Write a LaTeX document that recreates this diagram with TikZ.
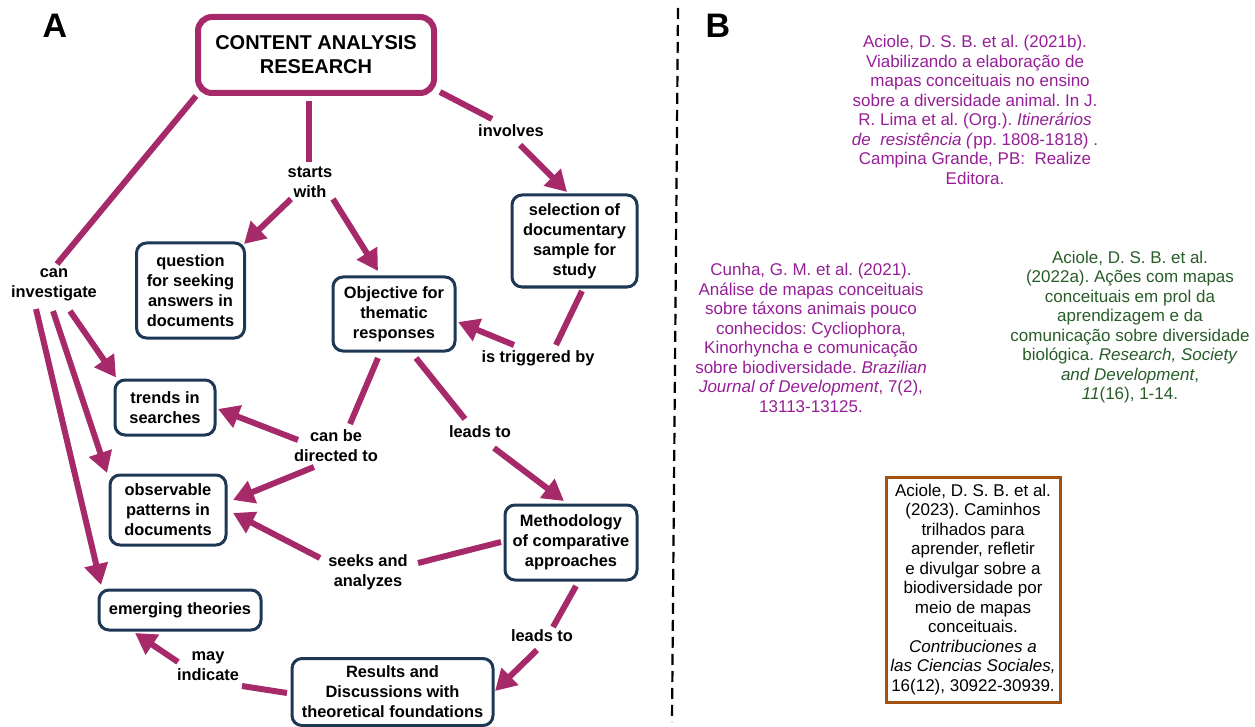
\documentclass[tikz,border=0pt]{standalone}
\usepackage{fontspec}
\setmainfont{Liberation Sans}
\usetikzlibrary{arrows.meta,calc}
\frenchspacing
\definecolor{mag}{RGB}{166,42,106}
\definecolor{navy}{RGB}{30,55,85}
\definecolor{refpurple}{RGB}{150,30,150}
\definecolor{refgreen}{RGB}{40,92,40}
\definecolor{refbrown}{RGB}{160,82,14}
\tikzset{
  cbox/.style={draw=navy, line width=3pt, rounded corners=10pt, fill=white, align=center,
    font=\bfseries\fontsize{16.4}{20}\selectfont, inner sep=2pt},
  titlebox/.style={draw=mag, line width=6pt, rounded corners=14pt, fill=white, align=center,
    font=\bfseries\fontsize{20}{24}\selectfont, minimum width=236pt, minimum height=76pt},
  lbl/.style={align=center, font=\bfseries\fontsize{16.4}{20}\selectfont, inner sep=1pt},
  link/.style={draw=mag, line width=6pt},
  arr/.style={link, -{Triangle[length=21pt,width=23pt]}},
  ref/.style={align=center, font=\fontsize{17}{19.5}\selectfont\frenchspacing, inner sep=0pt},
  panel/.style={font=\bfseries\fontsize{34}{34}\selectfont, inner sep=0pt}
}
\begin{document}
\begin{tikzpicture}[x=1pt,y=-1pt]
\useasboundingbox (0,0) rectangle (1255,727);
% panel letters
\node[panel] (pA) at (55,26) {A};
\node[panel] (pB) at (718,26) {B};
% divider
\draw[line width=2.2pt, dash pattern=on 11pt off 6pt] (678,8) -- (672,722);

% concept nodes
\node[titlebox] (T) at (316,55) {CONTENT ANALYSIS\\RESEARCH};
\node[cbox, minimum width=108pt, minimum height=95pt] (Q) at (190.5,290.5) {question\\for seeking\\answers in\\documents};
\node[cbox, minimum width=122pt, minimum height=74pt] (O) at (394,314) {Objective for\\thematic\\responses};
\node[cbox, minimum width=125pt, minimum height=92pt] (S) at (574.5,241) {selection of\\documentary\\sample for\\study};
\node[cbox, minimum width=100pt, minimum height=55pt] (Tr) at (165,407.5) {trends in\\searches};
\node[cbox, minimum width=116pt, minimum height=70pt] (Ob) at (168,510) {observable\\patterns in\\documents};
\node[cbox, minimum width=132pt, minimum height=75pt] (M) at (571,542.5) {Methodology\\of comparative\\approaches};
\node[cbox, minimum width=162pt, minimum height=40pt] (E) at (180,610) {emerging theories};
\node[cbox, minimum width=201pt, minimum height=67pt] (R) at (392.5,692) {Results and\\Discussions with\\theoretical foundations};

% link labels
\node[lbl] (CI) at (54,285) {can\\investigate};
\node[lbl] (ST) at (310,182) {starts\\with};
\node[lbl] (IV) at (511,131) {involves};
\node[lbl] (TG) at (538,358) {is triggered by};
\node[lbl] (DR) at (336,446) {can be\\directed to};
\node[lbl] (L1) at (480,432) {leads to};
\node[lbl] (SK) at (368,572) {seeks and\\analyzes};
\node[lbl] (L2) at (542,636) {leads to};
\node[lbl] (MY) at (208,666) {may\\indicate};

% connectors
\draw[link] ($(T.center)+(-120,41)$) -- ($(CI.center)+(3,-21)$);
\draw[arr] ($(CI.center)+(16,26)$) -- ($(Tr.center)+(-49,-30)$);
\draw[arr] ($(CI.center)+(-1,26)$) -- ($(Ob.center)+(-61,-37)$);
\draw[arr] ($(CI.center)+(-18,24)$) -- ($(E.center)+(-79,-25)$);

\draw[link] ($(T.center)+(-7,46)$) -- ($(ST.center)+(-1,-20)$);
\draw[arr] ($(ST.center)+(-19,17)$) -- ($(Q.center)+(53.5,-46.5)$);
\draw[arr] ($(ST.center)+(23,17)$) -- ($(O.center)+(-16,-43)$);

\draw[link] ($(T.center)+(124,37)$) -- ($(IV.center)+(-19,-12)$);
\draw[arr] ($(IV.center)+(9,14)$) -- ($(S.center)+(-7.5,-49)$);

\draw[link] ($(S.center)+(7.5,50)$) -- ($(TG.center)+(18,-13)$);
\draw[arr] ($(TG.center)+(-24,-13)$) -- ($(O.center)+(64,8)$);

\draw[link] ($(O.center)+(-16,44)$) -- ($(DR.center)+(14,-22)$);
\draw[arr] ($(DR.center)+(-38,-6)$) -- ($(Tr.center)+(53,1.5)$);
\draw[arr] ($(DR.center)+(-22,21)$) -- ($(Ob.center)+(65,-10)$);

\draw[link] ($(O.center)+(22,44)$) -- ($(L1.center)+(-15,-13)$);
\draw[arr] ($(L1.center)+(14,16)$) -- ($(M.center)+(-7,-41.5)$);

\draw[link] ($(M.center)+(-70,-0.5)$) -- ($(SK.center)+(50,-9)$);
\draw[arr] ($(SK.center)+(-48,-14)$) -- ($(Ob.center)+(65,3)$);

\draw[link] ($(M.center)+(5,43.5)$) -- ($(L2.center)+(11,-9)$);
\draw[arr] ($(L2.center)+(-5,14)$) -- ($(R.center)+(102.5,-1)$);

\draw[link] ($(R.center)+(-105.5,1)$) -- ($(MY.center)+(34,20)$);
\draw[arr] ($(MY.center)+(-30,-4)$) -- ($(E.center)+(-45,23)$);

% references
\node[ref, text=refpurple] (r1) at (975,110) {Aciole, D. S. B. et al. (2021b).\\
Viabilizando a elaboração de\\
\hspace*{0.6em}mapas conceituais no ensino\\
sobre a diversidade animal. In J.\\
R. Lima et al. (Org.). \textit{Itinerários}\\
\textit{de\ \ resistência (}pp. 1808-1818) .\\
Campina Grande, PB:\ \ Realize\\
Editora.};
\node[ref, text=refpurple] (r2) at (811,338) {Cunha, G. M. et al. (2021).\\
Análise de mapas conceituais\\
sobre táxons animais pouco\\
conhecidos: Cycliophora,\\
Kinorhyncha e comunicação\\
sobre biodiversidade. \textit{Brazilian}\\
\textit{Journal of Development}, 7(2),\\
13113-13125.};
\node[ref, text=refgreen] (r3) at (1130,327) {Aciole, D. S. B. et al.\\
(2022a). Ações com mapas\\
conceituais em prol da\\
aprendizagem e da\\
comunicação sobre diversidade\\
biológica. \textit{Research, Society}\\
\textit{and Development},\\
\textit{11}(16), 1-14.};
\node[ref, draw=refbrown, line width=3pt, minimum width=174pt, minimum height=225pt] (r4) at (973,589.5) {Aciole, D. S. B. et al.\\
(2023). Caminhos\\
trilhados para\\
aprender, refletir\\
e divulgar sobre a\\
biodiversidade por\\
meio de mapas\\
conceituais.\\
\textit{Contribuciones a}\\
\textit{las Ciencias Sociales,}\\
16(12), 30922-30939.};
\end{tikzpicture}
\end{document}
